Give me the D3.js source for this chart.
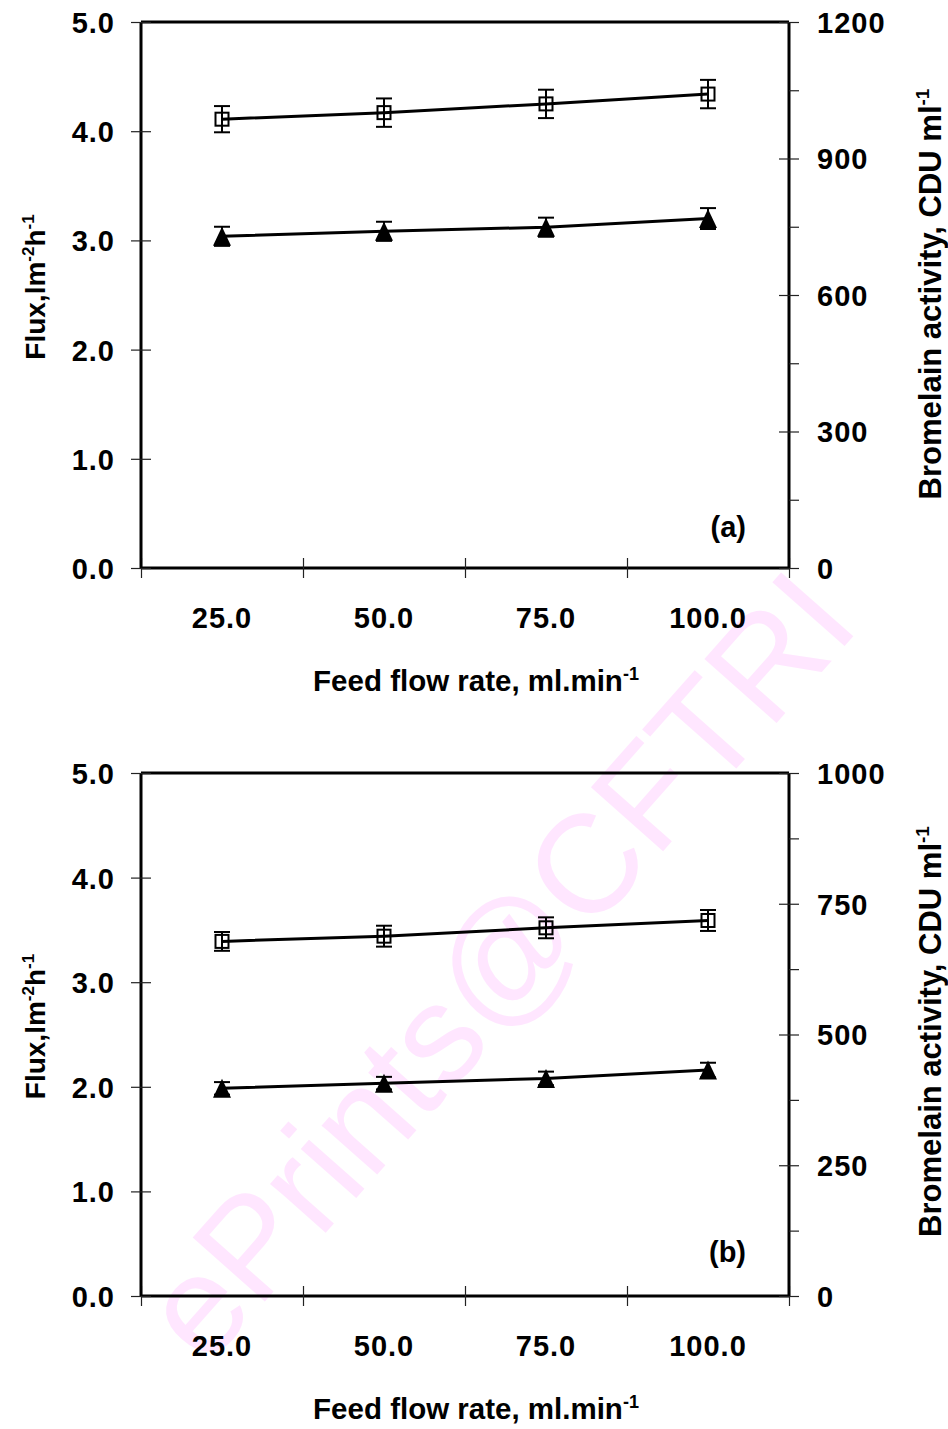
<!DOCTYPE html>
<html>
<head>
<meta charset="utf-8">
<script src="https://cdn.jsdelivr.net/npm/d3@7"></script>
<style>
  body { margin: 0; background: #fff; }
  svg { font-family: "Liberation Sans", Arial, sans-serif; font-weight: bold; }
</style>
</head>
<body>
<div id="graph"></div>
<script>
// feed flow rate categories
var flowRates = ["25.0", "50.0", "75.0", "100.0"];

// panel (a)
var fluxA = [4.11, 4.17, 4.25, 4.34];
var fluxErrA = [0.12, 0.13, 0.13, 0.13];
var activityA = [729, 740, 749, 768];
var activityErrA = [21, 21, 21, 23];

// panel (b)
var fluxB = [3.39, 3.44, 3.52, 3.59];
var fluxErrB = [0.09, 0.10, 0.10, 0.10];
var activityB = [397, 407, 416, 432];
var activityErrB = [12, 12, 13, 14];

// axis ticks
var fluxTicks = [0, 1, 2, 3, 4, 5];
var activityTicksA = [0, 150, 300, 450, 600, 750, 900, 1050, 1200];
var activityLabelsA = [0, 300, 600, 900, 1200];
var activityTicksB = [0, 125, 250, 375, 500, 625, 750, 875, 1000];
var activityLabelsB = [0, 250, 500, 750, 1000];

var svg = d3.select("#graph").append("svg")
    .attr("width", 948)
    .attr("height", 1429);

// watermark
svg.append("text")
    .attr("transform", "translate(497,965) rotate(-48.5)")
    .attr("text-anchor", "middle")
    .attr("dy", "0.35em")
    .style("font-weight", "normal")
    .style("font-size", "140px")
    .style("fill", "#ffe6ff")
    .text("ePrints@CFTRI");

var left = 141, right = 789;

drawPanel({top: 22, bottom: 568, flux: fluxA, fluxErr: fluxErrA, act: activityA, actErr: activityErrA,
  actMax: 1200, actTicks: activityTicksA, actLabels: activityLabelsA, tag: "(a)", tagDy: 31, rtShift: -1});
drawPanel({top: 773, bottom: 1296, flux: fluxB, fluxErr: fluxErrB, act: activityB, actErr: activityErrB,
  actMax: 1000, actTicks: activityTicksB, actLabels: activityLabelsB, tag: "(b)", tagDy: 34, rtShift: -3});

function styleTicks(sel) {
  sel.style("font-size", "29px").style("font-family", "inherit").style("font-weight", "bold")
     .style("letter-spacing", "1px")
     .attr("fill", "#000");
}

function drawPanel(p) {
  var g = svg.append("g");

  var x = d3.scaleBand().domain(flowRates).range([left, right]).padding(0);
  var bounds = d3.scaleLinear().domain([0, flowRates.length]).range([left, right]);
  var yFlux = d3.scaleLinear().domain([0, 5]).range([p.bottom, p.top]);
  var yAct = d3.scaleLinear().domain([0, p.actMax]).range([p.bottom, p.top]);
  var cx = function(i) { return x(flowRates[i]) + x.bandwidth() / 2; };

  // frame: top line
  g.append("line")
      .attr("x1", left).attr("x2", right)
      .attr("y1", p.top).attr("y2", p.top)
      .attr("stroke", "#000").attr("stroke-width", 3);

  // x axis: tick marks at category boundaries
  var xb = g.append("g")
      .attr("transform", "translate(0," + p.bottom + ")")
      .call(d3.axisBottom(bounds).tickValues(d3.range(flowRates.length + 1)).tickSize(10).tickFormat(""));
  xb.select(".domain").attr("stroke-width", 3).attr("d", "M" + left + ",0H" + right);
  xb.selectAll(".tick line").attr("y1", -10).attr("stroke", "#222").attr("stroke-width", 1.2);

  // x labels
  var xl = g.append("g")
      .attr("transform", "translate(0," + p.bottom + ")")
      .call(d3.axisBottom(x).tickSize(0));
  xl.select(".domain").remove();
  styleTicks(xl.selectAll(".tick text").attr("y", 60).attr("dy", 0));

  // left axis
  var yl = g.append("g")
      .attr("transform", "translate(" + left + ",0)")
      .call(d3.axisLeft(yFlux).tickValues(fluxTicks).tickFormat(d3.format(".1f")).tickSize(10).tickPadding(16));
  yl.select(".domain").attr("stroke-width", 3).attr("d", "M0," + p.top + "V" + p.bottom);
  yl.selectAll(".tick line").attr("x1", 10).attr("stroke", "#222").attr("stroke-width", 1.2);
  styleTicks(yl.selectAll(".tick text").attr("dy", "0.36em"));

  // right axis
  var yr = g.append("g")
      .attr("transform", "translate(" + right + ",0)")
      .call(d3.axisRight(yAct).tickValues(p.actTicks).tickSize(10).tickPadding(18)
        .tickFormat(function(d) { return p.actLabels.indexOf(d) >= 0 ? d : ""; }));
  yr.select(".domain").attr("stroke-width", 3).attr("d", "M0," + p.top + "V" + p.bottom);
  yr.selectAll(".tick line")
      .attr("x1", function(d) { return p.actLabels.indexOf(d) >= 0 ? -10 : 0; })
      .attr("stroke", "#222").attr("stroke-width", 1.2);
  styleTicks(yr.selectAll(".tick text").attr("dy", "0.36em"));

  // axis titles
  var xt = g.append("text")
      .attr("x", 476).attr("y", p.bottom + 123)
      .attr("text-anchor", "middle")
      .style("font-size", "29.5px");
  xt.append("tspan").text("Feed flow rate, ml.min");
  xt.append("tspan").attr("dy", -11).style("font-size", "18px").text("-1");

  var ylt = g.append("text")
      .attr("transform", "translate(45," + ((p.top + p.bottom) / 2 - 8) + ") rotate(-90)")
      .attr("text-anchor", "middle")
      .style("font-size", "28px");
  ylt.append("tspan").text("Flux,lm");
  ylt.append("tspan").attr("dy", -11).style("font-size", "17px").text("-2");
  ylt.append("tspan").attr("dy", 11).text("h");
  ylt.append("tspan").attr("dy", -11).style("font-size", "17px").text("-1");

  var yrt = g.append("text")
      .attr("transform", "translate(941," + ((p.top + p.bottom) / 2 + p.rtShift) + ") rotate(-90)")
      .attr("text-anchor", "middle")
      .style("font-size", "31px");
  yrt.append("tspan").text("Bromelain activity, CDU ml");
  yrt.append("tspan").attr("dy", -12).style("font-size", "19px").text("-1");

  // panel tag
  g.append("text")
      .attr("x", 746).attr("y", p.bottom - p.tagDy)
      .attr("text-anchor", "end")
      .style("font-size", "29px")
      .text(p.tag);

  var idx = d3.range(flowRates.length);

  // flux series (open squares)
  g.append("path")
      .datum(idx)
      .attr("fill", "none").attr("stroke", "#000").attr("stroke-width", 3)
      .attr("d", d3.line().x(cx).y(function(i) { return yFlux(p.flux[i]); }));
  errorBars(g, idx, cx, function(i) { return yFlux(p.flux[i] + p.fluxErr[i]); },
    function(i) { return yFlux(p.flux[i] - p.fluxErr[i]); });
  g.selectAll(null).data(idx).enter().append("rect")
      .attr("x", function(i) { return cx(i) - 6.5; })
      .attr("y", function(i) { return yFlux(p.flux[i]) - 6.5; })
      .attr("width", 13).attr("height", 13)
      .attr("fill", "none").attr("stroke", "#000").attr("stroke-width", 2);

  // activity series (filled triangles)
  g.append("path")
      .datum(idx)
      .attr("fill", "none").attr("stroke", "#000").attr("stroke-width", 3)
      .attr("d", d3.line().x(cx).y(function(i) { return yAct(p.act[i]); }));
  errorBars(g, idx, cx, function(i) { return yAct(p.act[i] + p.actErr[i]); },
    function(i) { return yAct(p.act[i] - p.actErr[i]); });
  g.selectAll(null).data(idx).enter().append("path")
      .attr("transform", function(i) { return "translate(" + cx(i) + "," + yAct(p.act[i]) + ")"; })
      .attr("d", "M0,-9.5L9,9.5L-9,9.5Z")
      .attr("fill", "#000");
}

function errorBars(g, idx, cx, yHi, yLo) {
  var e = g.append("g").attr("stroke", "#000").attr("stroke-width", 2);
  e.selectAll(null).data(idx).enter().append("line")
      .attr("x1", cx).attr("x2", cx).attr("y1", yHi).attr("y2", yLo);
  e.selectAll(null).data(idx).enter().append("line")
      .attr("x1", function(i) { return cx(i) - 8; }).attr("x2", function(i) { return cx(i) + 8; })
      .attr("y1", yHi).attr("y2", yHi);
  e.selectAll(null).data(idx).enter().append("line")
      .attr("x1", function(i) { return cx(i) - 8; }).attr("x2", function(i) { return cx(i) + 8; })
      .attr("y1", yLo).attr("y2", yLo);
}
</script>
</body>
</html>
